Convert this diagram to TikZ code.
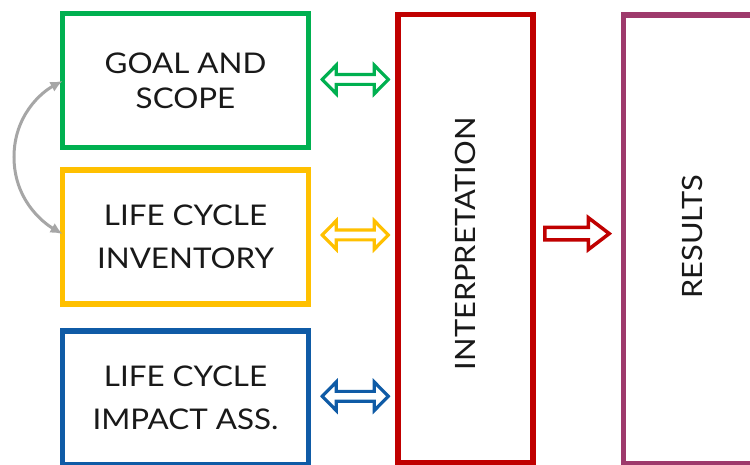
\documentclass[tikz,border=0pt]{standalone}
\usepackage{fontspec}
\setmainfont{Lato}[FakeStretch=1.1]
\usetikzlibrary{arrows.meta,calc}
\definecolor{cgreen}{HTML}{00B050}
\definecolor{cyellow}{HTML}{FFC000}
\definecolor{cblue}{HTML}{0F5BA6}
\definecolor{cred}{HTML}{C00000}
\definecolor{cpurple}{HTML}{9E3A6C}
\definecolor{cgray}{HTML}{A6A6A6}
\tikzset{
  pics/dblarrow/.style={code={
    \draw[draw=#1, fill=white, line width=3.2pt, line join=miter]
      (-33,0) -- (-19,-14.3) -- (-19,-4.9) -- (19,-4.9) -- (19,-14.3) -- (33,0)
      -- (19,14.3) -- (19,4.9) -- (-19,4.9) -- (-19,14.3) -- cycle;
  }},
  pics/sglarrow/.style={code={
    \draw[draw=#1, fill=white, line width=3.5pt, line join=miter]
      (-33.5,-6.3) -- (10,-6.3) -- (10,-16) -- (31,0) -- (10,16) -- (10,6.3)
      -- (-33.5,6.3) -- cycle;
  }}
}
\begin{document}
\begin{tikzpicture}[x=1pt,y=-1pt,
  box/.style={draw=#1, line width=5.5pt, outer sep=0pt, inner sep=0pt, align=center,
    font=\fontsize{28.5}{43}\selectfont, text=black!90},
  vtxt/.style={rotate=90, font=\fontsize{28}{34}\selectfont, text=black!90, inner sep=0pt},
  loop/.style={draw=cgray, line width=3pt, {Latex[length=12pt,width=11pt]}-{Latex[length=12pt,width=11pt]}}
]
\useasboundingbox (0,0) rectangle (750,465);
\fill[white] (0,0) rectangle (750,465);

\node[box=cgreen, minimum width=246pt, minimum height=134pt,
  font=\fontsize{28.5}{35}\selectfont] (goal) at (185.5,80.5) {GOAL AND\\SCOPE};
\node[box=cyellow, minimum width=246pt, minimum height=134pt] (inv) at (185.5,237) {LIFE CYCLE\\INVENTORY};
\node[box=cblue, minimum width=246pt, minimum height=133.5pt] (lcia) at (185.5,397.75) {LIFE CYCLE\\IMPACT ASS.};
\node[box=cred, minimum width=135pt, minimum height=448.5pt] (interp) at (465.5,238.75) {};
\node[box=cpurple, minimum width=137pt, minimum height=449pt] (res) at (692,239.5) {};

\node[vtxt] (interptxt) at ([yshift=-5pt]interp.center) {INTERPRETATION};
\node[vtxt] (restxt) at ([yshift=3pt]res.center) {RESULTS};

\pic at ([xshift=2pt,yshift=1pt]$(goal.east)!0.5!(interp.west|-goal.east)$) {dblarrow=cgreen};
\pic at ([xshift=2pt,yshift=2pt]$(inv.east)!0.5!(interp.west|-inv.east)$) {dblarrow=cyellow};
\pic at ([xshift=2pt,yshift=1.5pt]$(lcia.east)!0.5!(interp.west|-lcia.east)$) {dblarrow=cblue};
\pic at ([yshift=5.5pt]$(interp.east)!0.5!(res.west)$) {sglarrow=cred};

\draw[loop] ([yshift=-0.5pt]goal.west) .. controls (42,92) and (14,115) .. (14,157)
  .. controls (14,199) and (42,222) .. ([yshift=3pt]inv.west);
\end{tikzpicture}
\end{document}
